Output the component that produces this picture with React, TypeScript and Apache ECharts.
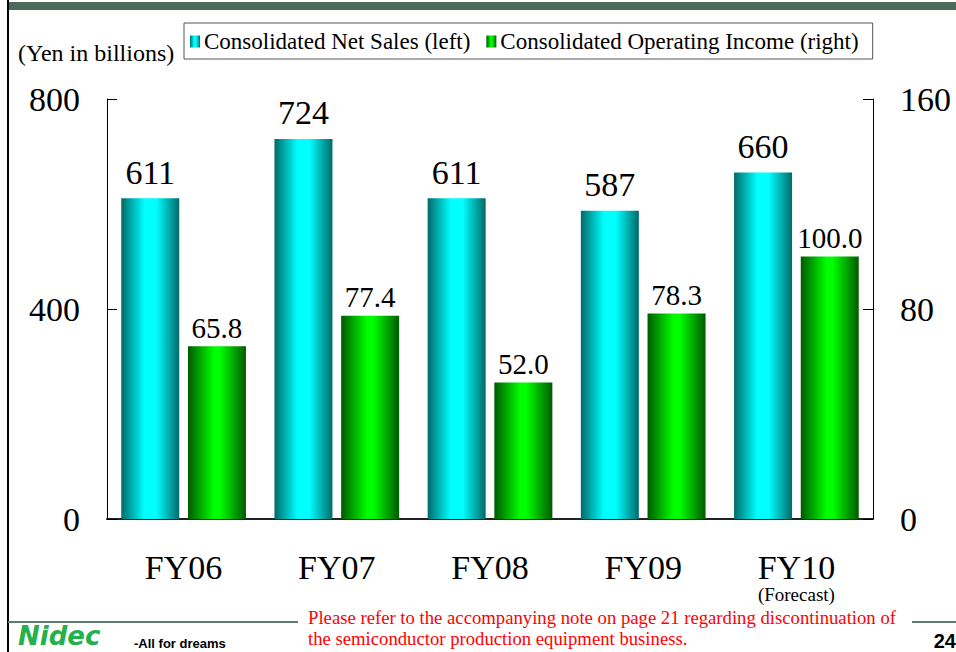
import React, { useEffect, useRef } from "react";
import * as echarts from "echarts";

const categories = ["FY06", "FY07", "FY08", "FY09", "FY10"];
const netSales = [611, 724, 611, 587, 660];
const operatingIncome = [65.8, 77.4, 52.0, 78.3, 100.0];
const leftTicks = { min: 0, max: 800, interval: 400 };
const rightTicks = { min: 0, max: 160, interval: 80 };

const SERIF = "'Liberation Serif', 'Times New Roman', serif";

export default function App() {
  const ref = useRef<HTMLDivElement>(null);
  useEffect(() => {
    document.body.style.margin = "0";
    const chart = echarts.init(ref.current!, null, { renderer: "svg" });
    const cyan = new echarts.graphic.LinearGradient(0, 0, 1, 0, [
      { offset: 0, color: "#006a6a" },
      { offset: 0.4, color: "#00ffff" },
      { offset: 0.6, color: "#00ffff" },
      { offset: 1, color: "#006a6a" },
    ]);
    const green = new echarts.graphic.LinearGradient(0, 0, 1, 0, [
      { offset: 0, color: "#005a00" },
      { offset: 0.45, color: "#00ff00" },
      { offset: 0.55, color: "#00ff00" },
      { offset: 1, color: "#005a00" },
    ]);
    chart.setOption({
      animation: false,
      backgroundColor: "#fff",
      textStyle: { fontFamily: SERIF },
      grid: { left: 107, right: 83, top: 99, bottom: 133 },
      legend: {
        left: 184,
        top: 23,
        padding: [7, 14, 6, 6],
        borderColor: "#555",
        borderWidth: 1,
        itemWidth: 10,
        itemHeight: 12,
        itemGap: 16,
        textStyle: { fontFamily: SERIF, fontSize: 23, color: "#000", padding: [0, 0, 0, -1] },
        data: [
          { name: "Consolidated Net Sales (left)", icon: "rect" },
          { name: "Consolidated Operating Income (right)", icon: "rect" },
        ],
      },
      xAxis: {
        type: "category",
        data: categories,
        axisLine: { lineStyle: { color: "#222", width: 2 } },
        axisTick: { inside: true, length: 10, lineStyle: { color: "#555", width: 2 } },
        axisLabel: {
          margin: 33,
          color: "#000",
          fontFamily: SERIF,
          formatter: (v: string) =>
            v === "FY10" ? "{a|" + v + "}\n{b|(Forecast)}" : "{a|" + v + "}",
          rich: {
            a: { fontSize: 34, fontFamily: SERIF, color: "#000", lineHeight: 30 },
            b: { fontSize: 19, fontFamily: SERIF, color: "#000", lineHeight: 24 },
          },
        },
      },
      yAxis: [
        {
          type: "value",
          ...leftTicks,
          splitLine: { show: false },
          axisLine: { show: true, lineStyle: { color: "#000", width: 1 } },
          axisTick: { show: true, inside: true, length: 10, lineStyle: { color: "#000" } },
          axisLabel: { margin: 27, fontSize: 34, fontFamily: SERIF, color: "#000" },
        },
        {
          type: "value",
          ...rightTicks,
          splitLine: { show: false },
          axisLine: { show: true, lineStyle: { color: "#000", width: 1 } },
          axisTick: { show: true, inside: true, length: 10, lineStyle: { color: "#000" } },
          axisLabel: { margin: 27, fontSize: 34, fontFamily: SERIF, color: "#000" },
        },
      ],
      series: [
        {
          name: "Consolidated Net Sales (left)",
          type: "bar",
          yAxisIndex: 0,
          data: netSales,
          barWidth: 58,
          barGap: "15%",
          itemStyle: { color: cyan },
          label: {
            show: true,
            position: "top",
            distance: 9,
            fontSize: 34,
            fontFamily: SERIF,
            color: "#000",
          },
        },
        {
          name: "Consolidated Operating Income (right)",
          type: "bar",
          yAxisIndex: 1,
          data: operatingIncome,
          barWidth: 58,
          barGap: "15%",
          itemStyle: { color: green },
          label: {
            show: true,
            position: "top",
            distance: 4,
            fontSize: 29,
            fontFamily: SERIF,
            color: "#000",
            formatter: (p: any) => Number(p.value).toFixed(1),
          },
        },
      ],
      graphic: [
        { type: "rect", shape: { x: 8, y: 2, width: 948, height: 8 }, style: { fill: "#4d6a5f" } },
        { type: "rect", shape: { x: 7, y: 0, width: 2, height: 652 }, style: { fill: "#000" } },
        {
          type: "text",
          x: 18,
          y: 53,
          style: { text: "(Yen in billions)", fontSize: 24, fontFamily: SERIF, fill: "#000", verticalAlign: "middle" },
        },
        { type: "rect", shape: { x: 8, y: 621, width: 290, height: 2 }, style: { fill: "#5f7a70" } },
        { type: "rect", shape: { x: 912, y: 621, width: 44, height: 2 }, style: { fill: "#5f7a70" } },
        {
          type: "text",
          x: 308,
          y: 617,
          style: {
            text: "Please refer to the accompanying note on page 21 regarding discontinuation of",
            fontSize: 18.7,
            fontFamily: SERIF,
            fill: "#ff0000",
            verticalAlign: "middle",
          },
        },
        {
          type: "text",
          x: 308,
          y: 638,
          style: {
            text: "the semiconductor production equipment business.",
            fontSize: 18.7,
            fontFamily: SERIF,
            fill: "#ff0000",
            verticalAlign: "middle",
          },
        },
        {
          type: "text",
          x: 956,
          y: 641,
          style: {
            text: "24",
            fontSize: 20,
            fontWeight: "bold",
            fontFamily: "'Liberation Sans', Arial, sans-serif",
            fill: "#000",
            align: "right",
            verticalAlign: "middle",
          },
        },
        {
          type: "text",
          x: 18,
          y: 636,
          style: {
            text: "Nidec",
            fontSize: 26,
            fontStyle: "italic",
            fontWeight: "bold",
            fontFamily: "'DejaVu Sans', sans-serif",
            fill: "#22b14c",
            verticalAlign: "middle",
          },
        },
        {
          type: "text",
          x: 134,
          y: 643,
          style: {
            text: "-All for dreams",
            fontSize: 13,
            fontWeight: "bold",
            fontFamily: "'Liberation Sans', Arial, sans-serif",
            fill: "#000",
            verticalAlign: "middle",
          },
        },
      ],
    });
    return () => chart.dispose();
  }, []);
  return <div ref={ref} style={{ position: "fixed", left: 0, top: 0, width: 956, height: 652 }} />;
}
